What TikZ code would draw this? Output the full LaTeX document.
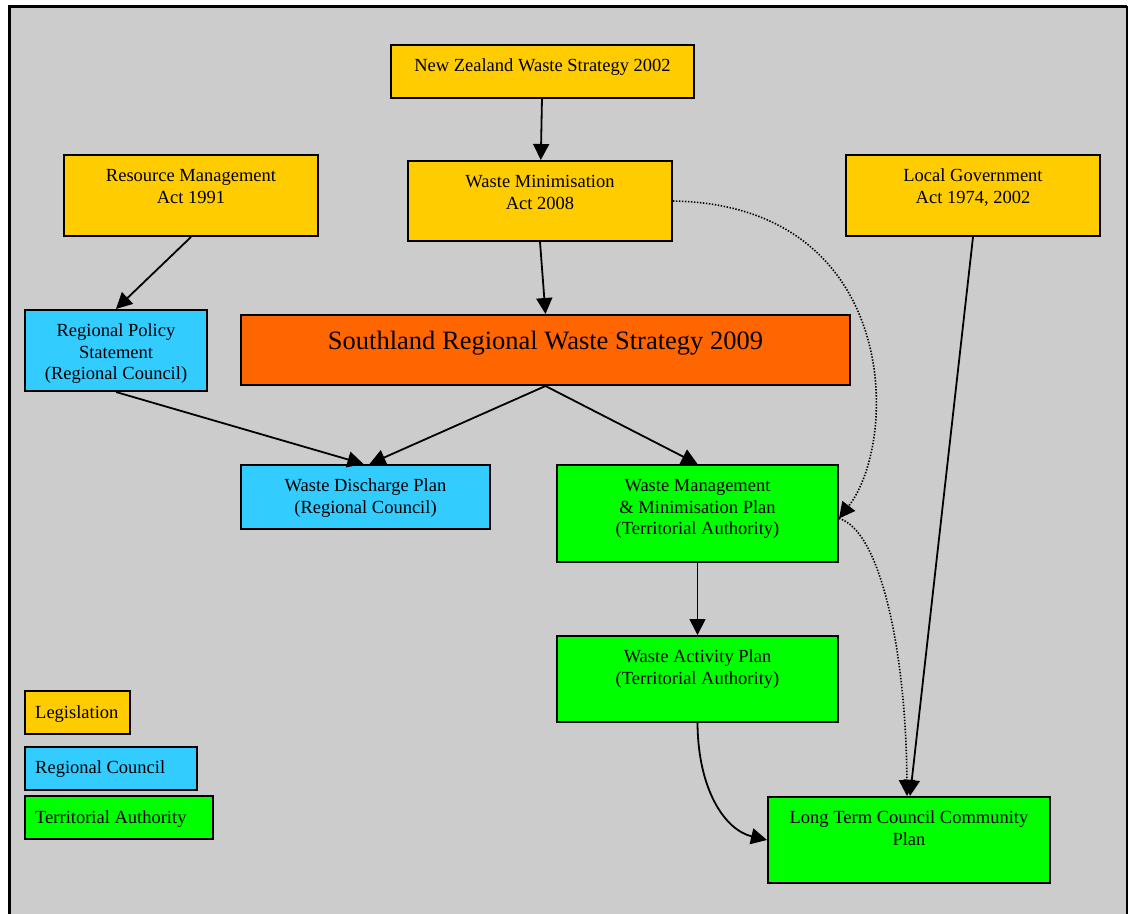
\documentclass[tikz,border=0pt]{standalone}
\usepackage{fontspec}
\setmainfont{Liberation Serif}
\usetikzlibrary{arrows.meta}
\definecolor{bggray}{HTML}{CCCCCC}
\definecolor{legis}{HTML}{FFCC00}
\definecolor{strat}{HTML}{FF6600}
\definecolor{regc}{HTML}{33CCFF}
\definecolor{terr}{HTML}{00FF00}
\newcommand\myfl{\rule{0pt}{14pt}}
\newcommand\mybigfl{\rule{0pt}{19pt}}
\tikzset{
  box/.style={draw=black, line width=2pt, inner sep=0pt, anchor=center},
  txt/.style={anchor=north, align=center, inner sep=0pt, font=\fontsize{18.5}{21.5}\selectfont},
  legtxt/.style={anchor=north west, align=left, inner sep=0pt, font=\fontsize{18.5}{21.5}\selectfont},
  bigtxt/.style={anchor=north, align=center, inner sep=0pt, font=\fontsize{26.5}{30}\selectfont},
  edge/.style={line width=1.8pt, -{Triangle[length=16pt,width=16pt]}},
  dotedge/.style={line width=1.6pt, dash pattern=on 1.4pt off 1.6pt, -{Triangle[length=16pt,width=16pt]}},
}
% name, x1, y1, x2, y2, fill
\newcommand\mkbox[6]{%
  \node[box, fill=#6, minimum width={(#4-#2)*1pt}, minimum height={(#5-#3)*1pt}] (#1) at ({(#2+#4)/2},{(#3+#5)/2}) {};}
\begin{document}
\begin{tikzpicture}[x=1pt, y=-1pt]
\useasboundingbox (0,0) rectangle (1129,913);
\fill[bggray] (9,6) rectangle (1127,930);
\draw[line width=3pt] (9,930) -- (9,6) -- (1127,6);
\draw[line width=2pt] (1127,6) -- (1127,930);

\mkbox{nz}{391}{45}{694}{98}{legis}
\node[txt] (nz-t) at (542.5,57.5) {\myfl New Zealand Waste Strategy 2002};
\mkbox{wma}{408}{161}{672}{241}{legis}
\node[txt] (wma-t) at (540,173.5) {\myfl Waste Minimisation\\Act 2008};
\mkbox{rma}{64}{155}{318}{236}{legis}
\node[txt] (rma-t) at (191,167.5) {\myfl Resource Management\\Act 1991};
\mkbox{lga}{846}{155}{1100}{236}{legis}
\node[txt] (lga-t) at (973,167.5) {\myfl Local Government\\Act 1974, 2002};
\mkbox{rps}{25}{310}{207}{391}{regc}
\node[txt] (rps-t) at (116,322.5) {\myfl Regional Policy\\Statement\\(Regional Council)};
\mkbox{srws}{241}{315}{850}{385}{strat}
\node[bigtxt] (srws-t) at (545.5,330.5) {\mybigfl Southland Regional Waste Strategy 2009};
\mkbox{wdp}{241}{465}{490}{529}{regc}
\node[txt] (wdp-t) at (365.5,477.5) {\myfl Waste Discharge Plan\\(Regional Council)};
\mkbox{wmmp}{557}{465}{838}{562}{terr}
\node[txt] (wmmp-t) at (697.5,477.5) {\myfl Waste Management\\\& Minimisation Plan\\(Territorial Authority)};
\mkbox{wap}{557}{636}{838}{722}{terr}
\node[txt] (wap-t) at (697.5,648.5) {\myfl Waste Activity Plan\\(Territorial Authority)};
\mkbox{ltccp}{768}{797}{1050}{883}{terr}
\node[txt] (ltccp-t) at (909,809.5) {\myfl Long Term Council Community\\Plan};

\mkbox{lg1}{25}{691}{130}{734}{legis}
\node[legtxt] (lg1-t) at (35,704.5) {\myfl Legislation};
\mkbox{lg2}{25}{747}{197}{790}{regc}
\node[legtxt] (lg2-t) at (35,759.5) {\myfl Regional Council};
\mkbox{lg3}{25}{796}{213}{839}{terr}
\node[legtxt] (lg3-t) at (35,809.5) {\myfl Territorial Authority};

\draw[edge] (nz) -- (wma);
\draw[edge] (wma.south) -- (srws.north);
\draw[edge] (rma.south) -- (rps.north);
\draw[edge] (rps.south) -- ([xshift=-2pt]wdp.north);
\draw[edge] (srws.south) -- ([xshift=4pt]wdp.north);
\draw[edge] (srws.south) -- (wmmp.north);
\draw[edge] (wmmp) -- (wap);
\draw[edge] (lga.south) -- ([xshift=1pt]ltccp.north);
\draw[dotedge] (wma.east) .. controls (900,205) and (900,440) .. ([yshift=-5pt]wmmp.east);
\draw[dotedge] ([yshift=-5pt]wmmp.east) .. controls (880,530) and (906,650) .. ([xshift=-2pt]ltccp.north);
\draw[edge] (wap.south) .. controls (698,790) and (725,830) .. (ltccp.west);
\end{tikzpicture}
\end{document}
